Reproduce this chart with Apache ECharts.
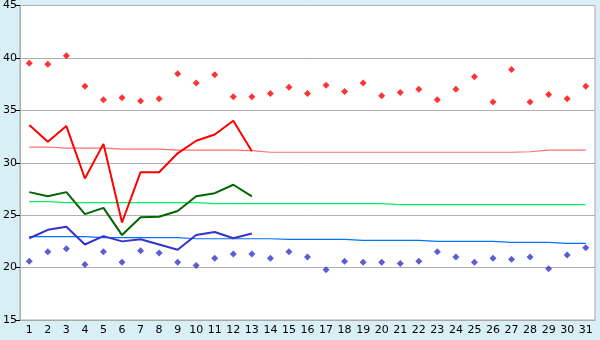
<!DOCTYPE html>
<html><head><meta charset="utf-8">
<script src="https://cdn.jsdelivr.net/npm/echarts@6/dist/echarts.min.js"></script>
<style>html,body{margin:0;padding:0;background:#d9eff6;}#c{width:600px;height:340px;}</style>
</head><body><div id="c"></div>
<script>
const days = ['1','2','3','4','5','6','7','8','9','10','11','12','13','14','15','16','17','18','19','20','21','22','23','24','25','26','27','28','29','30','31'];
const recordMax = [39.5,39.4,40.2,37.3,36.0,36.2,35.9,36.1,38.5,37.6,38.4,36.3,36.3,36.6,37.2,36.6,37.4,36.8,37.6,36.4,36.7,37.0,36.0,37.0,38.2,35.8,38.9,35.8,36.5,36.1,37.3];
const recordMin = [20.6,21.5,21.8,20.3,21.5,20.5,21.6,21.4,20.5,20.2,20.9,21.3,21.3,20.9,21.5,21.0,19.8,20.6,20.5,20.5,20.4,20.6,21.5,21.0,20.5,20.9,20.8,21.0,19.9,21.2,21.9];
const normalMax = [31.5,31.5,31.4,31.4,31.4,31.3,31.3,31.3,31.2,31.2,31.2,31.2,31.15,31.0,31.0,31.0,31.0,31.0,31.0,31.0,31.0,31.0,31.0,31.0,31.0,31.0,31.0,31.05,31.2,31.2,31.2];
const normalAvg = [26.3,26.3,26.2,26.2,26.2,26.2,26.2,26.2,26.2,26.2,26.1,26.1,26.1,26.1,26.1,26.1,26.1,26.1,26.1,26.1,26.0,26.0,26.0,26.0,26.0,26.0,26.0,26.0,26.0,26.0,26.0];
const normalMin = [22.95,22.95,22.95,22.95,22.85,22.85,22.85,22.85,22.85,22.75,22.75,22.75,22.75,22.75,22.7,22.7,22.7,22.7,22.6,22.6,22.6,22.6,22.5,22.5,22.5,22.5,22.4,22.4,22.4,22.3,22.3];
const actualMax = [33.6,32.0,33.5,28.5,31.8,24.3,29.1,29.1,30.9,32.1,32.7,34.0,31.1];
const actualAvg = [27.2,26.8,27.2,25.1,25.7,23.1,24.8,24.85,25.4,26.8,27.1,27.9,26.8];
const actualMin = [22.8,23.6,23.9,22.2,23.0,22.5,22.7,22.2,21.7,23.1,23.4,22.8,23.25];
const yTicks = {min:15, max:45, interval:5};

const chart = echarts.init(document.getElementById('c'), null, {renderer:'canvas'});
const font = 'DejaVu Sans';
function line(data, color, width, z){
  return {type:'line', data:data, symbol:'none', z:z, lineStyle:{color:color,width:width}, itemStyle:{color:color}, animation:false};
}
function pts(data, color){
  return {type:'scatter', data:data, symbol:'diamond', symbolSize:7, z:5, itemStyle:{color:color}, animation:false};
}
chart.setOption({
  backgroundColor:'#d9eff6',
  animation:false,
  grid:{left:20,right:5,top:5,bottom:20,show:true,backgroundColor:'#ffffff',borderColor:'#aaaaaa',borderWidth:1},
  xAxis:{type:'category',data:days,boundaryGap:true,
    axisLine:{lineStyle:{color:'#aaaaaa',width:1}},
    axisTick:{alignWithLabel:true,length:4,lineStyle:{color:'#000000'}},
    axisLabel:{color:'#000',fontFamily:font,fontSize:11,margin:5,interval:0},
    splitLine:{show:false}},
  yAxis:{type:'value',min:yTicks.min,max:yTicks.max,interval:yTicks.interval,
    axisLine:{show:true,lineStyle:{color:'#aaaaaa',width:1}},
    axisTick:{show:true,length:4,lineStyle:{color:'#000000'}},
    axisLabel:{color:'#000',fontFamily:font,fontSize:11,margin:3},
    splitLine:{show:true,lineStyle:{color:'#b0b0b0',width:1}}},
  series:[
    line(normalMax,'#ff7070',1.2,2),
    line(normalAvg,'#00ee66',1.2,2),
    line(normalMin,'#0070ff',1.2,2),
    pts(recordMax,'#ff0000'),
    pts(recordMin,'#3333cc'),
    line(actualMax,'#ff0000',2,3),
    line(actualAvg,'#006600',2,3),
    line(actualMin,'#3333cc',2,3)
  ]
});
</script></body></html>
